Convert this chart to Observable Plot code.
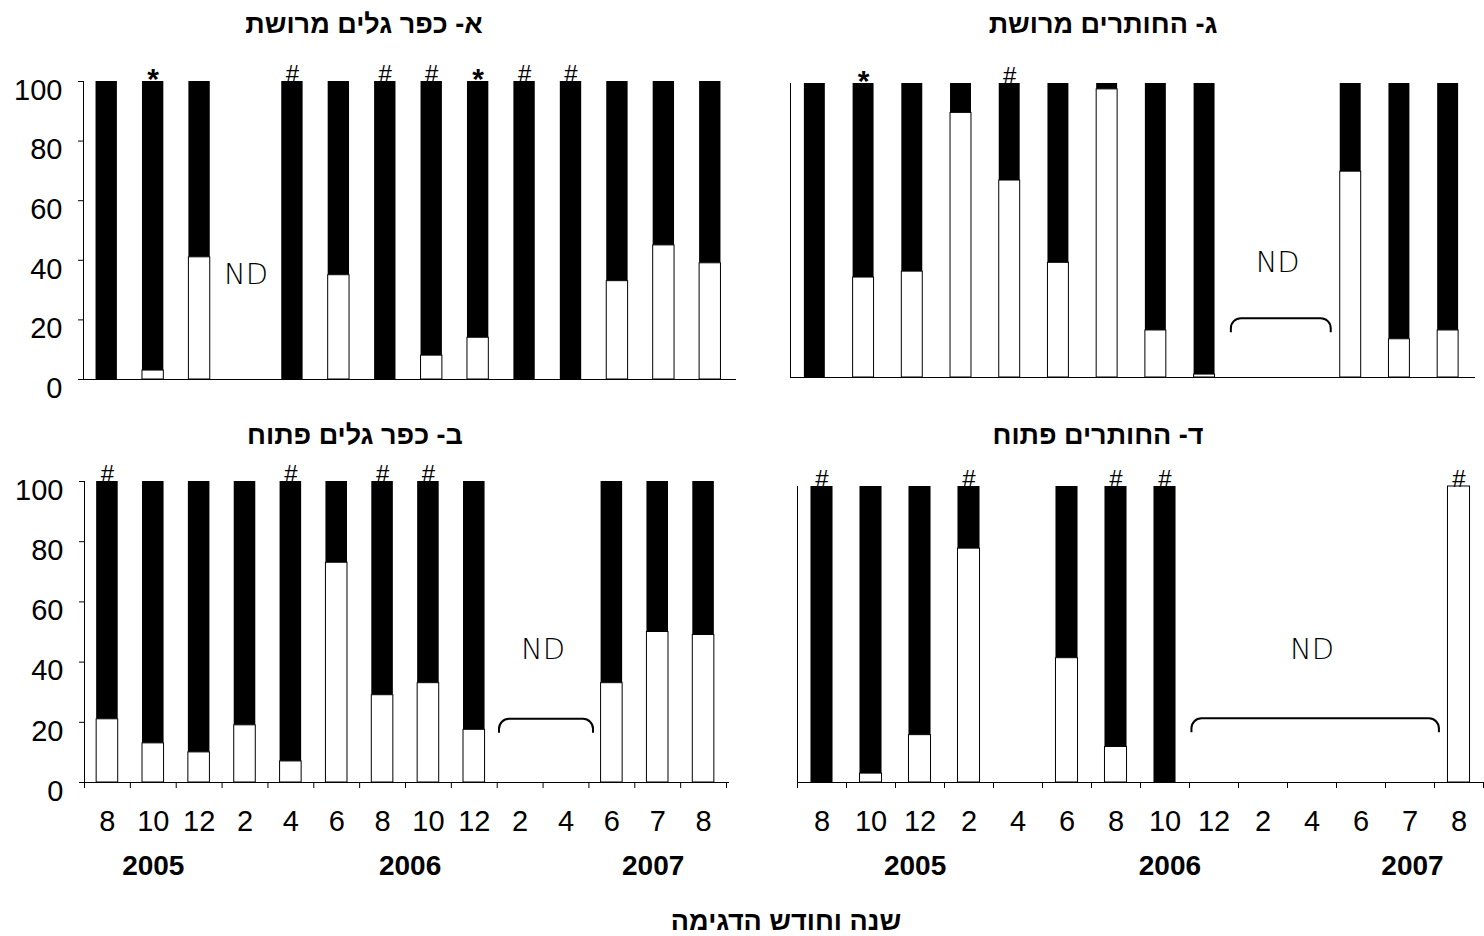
<!DOCTYPE html>
<html lang="he">
<head>
<meta charset="utf-8">
<script src="https://cdn.jsdelivr.net/npm/d3@7"></script>
<script src="https://cdn.jsdelivr.net/npm/@observablehq/plot@0.6"></script>
<style>
  html, body { margin: 0; padding: 0; background: #fff; }
  #page { position: relative; width: 1484px; height: 936px; overflow: hidden;
          font-family: "Liberation Sans", Arial, sans-serif; color: #000; }
  .panel { position: absolute; }
  .title { position: absolute; font-weight: bold; font-size: 27px; direction: rtl;
           white-space: nowrap; transform: translate(-50%, -50%); line-height: 1; }
</style>
</head>
<body>
<div id="page"></div>
<script>
// Sampling slots: month of each sampling, 2005-08 through 2007-08
const months = ["8", "10", "12", "2", "4", "6", "8", "10", "12", "2", "4", "6", "7", "8"];
const years = ["2005", "2006", "2007"];
const yTicks = [0, 20, 40, 60, 80, 100];

// Share (%) of the white part of each bar; the black part is the rest up to 100.
// null = no bar in that slot.
const kfarGalimNet   = [0, 3, 41, null, 0, 35, 0, 8, 14, 0, 0, 33, 45, 39];
const kfarGalimOpen  = [21, 13, 10, 19, 7, 73, 29, 33, 17.5, null, null, 33, 50, 49];
const hahotrimNet    = [0, 34, 36, 90, 67, 39, 98, 16, 1, null, null, 70, 13, 16];
const hahotrimOpen   = [0, 3, 16, 79, null, 42, 12, 0, null, null, null, null, null, 100];

// Significance marks above each bar
const kfarGalimNetFlags  = ["", "*", "", "", "#", "", "#", "#", "*", "#", "#", "", "", ""];
const kfarGalimOpenFlags = ["#", "", "", "", "#", "", "#", "#", "", "", "", "", "", ""];
const hahotrimNetFlags   = ["", "*", "", "", "#", "", "", "", "", "", "", "", "", ""];
const hahotrimOpenFlags  = ["#", "", "", "#", "", "", "#", "#", "", "", "", "", "", "#"];

// Slots without data (first, last)
const kfarGalimNetND  = [3, 3];
const kfarGalimOpenND = [9, 10];
const hahotrimNetND   = [9, 10];
const hahotrimOpenND  = [8, 12];

const titles = ["א- כפר גלים מרושת", "ב- כפר גלים פתוח", "ג- החותרים מרושת", "ד- החותרים פתוח"];
const xTitle = "שנה וחודש הדגימה";

const page = document.getElementById("page");
const FONT = "Liberation Sans, Arial, sans-serif";

// Curly "no data" bracket spanning the missing slots
function bracket(nd, yTop) {
  return (index, scales) => {
    const x0 = scales.x(nd[0] + 0.05), x1 = scales.x(nd[1] + 1.1);
    const y0 = scales.y(yTop), y1 = y0 + 14, r = 10;
    const p = d3.path();
    p.moveTo(x0, y1);
    p.arcTo(x0, y0, x0 + r, y0, r);
    p.lineTo(x1 - r, y0);
    p.arcTo(x1, y0, x1, y1, r);
    p.lineTo(x1, y1);
    return d3.create("svg:path")
      .attr("d", p.toString())
      .attr("fill", "none")
      .attr("stroke", "black")
      .attr("stroke-width", 2)
      .node();
  };
}

function panel(cfg) {
  const rows = cfg.values
    .map((v, i) => ({i, white: v, flag: cfg.flags[i]}))
    .filter((d) => d.white != null);
  const bw = cfg.barWidth;
  const x1 = (d) => d.i + 0.5 - bw / 2;
  const x2 = (d) => d.i + 0.5 + bw / 2;
  const ndMid = (cfg.nd[0] + cfg.nd[1] + 1) / 2;

  const marks = [
    Plot.rect(rows, {x1, x2, y1: (d) => d.white, y2: 100, fill: "black"}),
    Plot.rect(rows, {x1, x2, y1: 0, y2: (d) => d.white, fill: "white", stroke: "black", strokeWidth: 1}),
    Plot.ruleX([0], {y1: 0, y2: 100, stroke: "black"}),
    Plot.ruleY([0], {stroke: "black", insetRight: -3}),
    Plot.text(rows.filter((d) => d.flag === "#"), {
      x: (d) => d.i + 0.5, y: 100, text: "flag", dy: -7, fontSize: 24
    }),
    Plot.text(rows.filter((d) => d.flag === "*"), {
      x: (d) => d.i + 0.5, y: 100, text: "flag", dy: -2, fontSize: 30, fontWeight: "bold"
    }),
    Plot.text(["ND"], {
      x: ndMid, y: cfg.ndY, fontSize: 29, fontFamily: "DejaVu Sans", fontWeight: 300,
      letterSpacing: -1
    })
  ];
  if (cfg.yAxis) {
    marks.push(
      Plot.axisY(yTicks, {tickSize: 5, tickFormat: () => "", label: null}),
      Plot.text(yTicks, {x: 0, y: (d) => d, dx: -21, dy: 9, textAnchor: "end", fontSize: 29})
    );
  }
  if (cfg.xAxis) {
    marks.push(
      Plot.axisX(d3.range(months.length + 1), {tickSize: 6, tickFormat: () => "", label: null}),
      Plot.text(months, {x: (d, i) => i + 0.5, frameAnchor: "bottom", dy: 48, fontSize: 29}),
      Plot.text(years, {x: (d, i) => cfg.yearPos[i], frameAnchor: "bottom", dy: 92, fontSize: 28, fontWeight: "bold"})
    );
  }
  if (cfg.bracket) marks.push(bracket(cfg.nd, cfg.bracketY));

  const chart = Plot.plot({
    width: cfg.width,
    height: cfg.height,
    marginLeft: cfg.marginLeft,
    marginRight: cfg.marginRight,
    marginTop: cfg.marginTop,
    marginBottom: cfg.marginBottom,
    x: {domain: [0, months.length], axis: null},
    y: {domain: [0, 100], axis: null},
    style: {fontFamily: FONT, fontSize: "28px", color: "black", background: "transparent", overflow: "visible"},
    marks
  });
  chart.classList.add("panel");
  chart.style.left = cfg.left + "px";
  chart.style.top = cfg.top + "px";
  page.appendChild(chart);

  const t = document.createElement("div");
  t.className = "title";
  t.textContent = cfg.title;
  t.style.left = cfg.titleX + "px";
  t.style.top = cfg.titleY + "px";
  page.appendChild(t);
}

panel({
  left: 0, top: 0, width: 742, height: 400,
  marginLeft: 83, marginRight: 9, marginTop: 81, marginBottom: 21,
  values: kfarGalimNet, flags: kfarGalimNetFlags, nd: kfarGalimNetND, ndY: 35,
  barWidth: 0.46, yAxis: true, xAxis: false, bracket: false,
  title: titles[0], titleX: 364, titleY: 24
});
panel({
  left: 0, top: 400, width: 742, height: 490,
  marginLeft: 84, marginRight: 16, marginTop: 81, marginBottom: 108,
  values: kfarGalimOpen, flags: kfarGalimOpenFlags, nd: kfarGalimOpenND, ndY: 44,
  barWidth: 0.47, yAxis: true, xAxis: true, bracket: true, bracketY: 21,
  yearPos: [1.5, 7.1, 12.4],
  title: titles[1], titleX: 355, titleY: 435
});
panel({
  left: 742, top: 0, width: 742, height: 400,
  marginLeft: 48, marginRight: 12, marginTop: 83, marginBottom: 23,
  values: hahotrimNet, flags: hahotrimNetFlags, nd: hahotrimNetND, ndY: 39,
  barWidth: 0.43, yAxis: false, xAxis: false, bracket: true, bracketY: 20,
  title: titles[2], titleX: 1103, titleY: 24
});
panel({
  left: 742, top: 400, width: 742, height: 490,
  marginLeft: 55, marginRight: 1, marginTop: 86, marginBottom: 108,
  values: hahotrimOpen, flags: hahotrimOpenFlags, nd: hahotrimOpenND, ndY: 45,
  barWidth: 0.45, yAxis: false, xAxis: true, bracket: true, bracketY: 21.5,
  yearPos: [2.4, 7.6, 12.55],
  title: titles[3], titleX: 1098, titleY: 435
});

const cap = document.createElement("div");
cap.className = "title";
cap.textContent = xTitle;
cap.style.left = "786px";
cap.style.top = "921px";
page.appendChild(cap);
</script>
</body>
</html>
